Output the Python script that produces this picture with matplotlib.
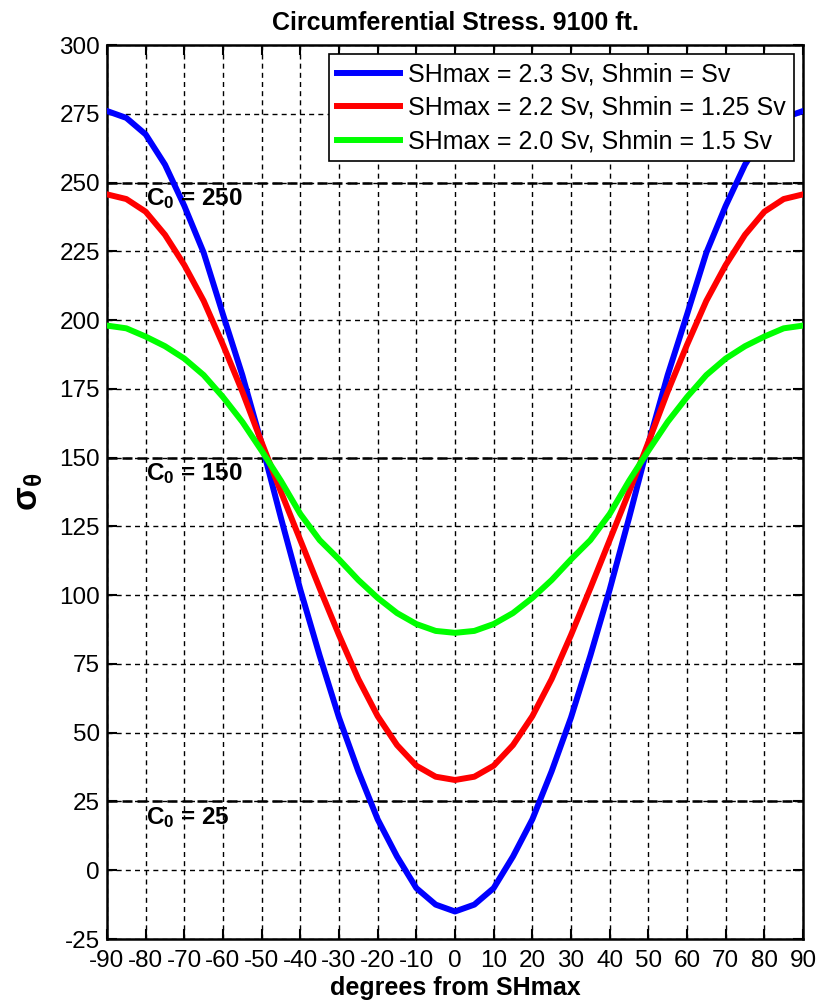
import matplotlib
matplotlib.use('Agg')
import matplotlib.pyplot as plt

plt.rcParams['font.family'] = ['Liberation Sans', 'DejaVu Sans']
plt.rcParams['mathtext.fontset'] = 'custom'
plt.rcParams['mathtext.rm'] = 'Liberation Sans'
plt.rcParams['mathtext.it'] = 'Liberation Sans:italic'
plt.rcParams['mathtext.bf'] = 'Liberation Sans:bold'
plt.rcParams['mathtext.default'] = 'regular'
plt.rcParams['axes.unicode_minus'] = False

# angle from SHmax, degrees
degrees = list(range(-90, 95, 5))

# circumferential stress
blue = [276, 273.5, 267.5, 256.5, 241.5, 224.5, 202, 180, 155, 128, 102, 78, 55.5, 36, 18.5, 5, -6.5, -12.5,
        -15,
        -12.5, -6.5, 5, 18.5, 36, 55.5, 78, 102, 128, 155, 180, 202, 224.5, 241.5, 256.5, 267.5, 273.5, 276]
red = [245.7, 244, 239.4, 231, 220, 207, 191, 174, 155.5, 137.5, 120, 102.5, 85.5, 69.5, 56, 45.5, 38, 34,
       32.8,
       34, 38, 45.5, 56, 69.5, 85.5, 102.5, 120, 137.5, 155.5, 174, 191, 207, 220, 231, 239.4, 244, 245.7]
green = [198, 197, 194, 190.5, 186, 180, 172, 163, 152.5, 141.5, 129.5, 120, 113, 105.5, 99, 93.5, 89.5, 87,
         86.3,
         87, 89.5, 93.5, 99, 105.5, 113, 120, 129.5, 141.5, 152.5, 163, 172, 180, 186, 190.5, 194, 197, 198]

labels = ['SHmax = 2.3 Sv, Shmin = Sv',
          'SHmax = 2.2 Sv, Shmin = 1.25 Sv',
          'SHmax = 2.0 Sv, Shmin = 1.5 Sv']

# rock strength levels
c0_levels = [250, 150, 25]

fig = plt.figure(figsize=(8.18, 10.07), dpi=100)
ax = fig.add_axes([107/818, 68/1007, 696/818, 894/1007])

for c in c0_levels:
    ax.axhline(c, color='k', ls=(0, (4, 2)), lw=1.8, zorder=2)
    ax.text(-80, c - 8.15, 'C$_0$ = %d' % c, fontsize=17.5, fontweight='bold',
            va='baseline', ha='left', zorder=5)

ax.plot(degrees, blue, color=(0, 0, 1), lw=4.3, label=labels[0], zorder=3, solid_joinstyle='round')
ax.plot(degrees, red, color=(1, 0, 0), lw=4.3, label=labels[1], zorder=3, solid_joinstyle='round')
ax.plot(degrees, green, color=(0, 1, 0), lw=4.3, label=labels[2], zorder=3, solid_joinstyle='round')

ax.set_xlim(-90, 90)
ax.set_ylim(-25, 300)
ax.set_xticks(range(-90, 91, 10))
ax.set_yticks(range(-25, 301, 25))
ax.grid(True, color='k', ls=(0, (3.6, 3)), lw=1.0)
ax.set_axisbelow(True)
ax.tick_params(direction='in', length=7, width=1.5, top=True, right=True,
               labelsize=17.5)
ax.tick_params(axis='x', pad=8)
ax.tick_params(axis='y', pad=5)
for s in ax.spines.values():
    s.set_linewidth(1.8)

ax.set_title('Circumferential Stress. 9100 ft.', fontsize=18, fontweight='bold', pad=11)
ax.set_xlabel('degrees from SHmax', fontsize=18, fontweight='bold', labelpad=3)
ax.set_ylabel(r'$\mathbf{\sigma_\theta}$', fontsize=25, labelpad=10)

leg = ax.legend(loc='upper right', fontsize=18, fancybox=False, edgecolor='k',
                framealpha=1, borderaxespad=0.37, handlelength=2.5, labelspacing=0.38,
                borderpad=0.32, handletextpad=0.33)
leg.get_frame().set_linewidth(1.2)

fig.savefig('out.png', dpi=100, facecolor='white')
